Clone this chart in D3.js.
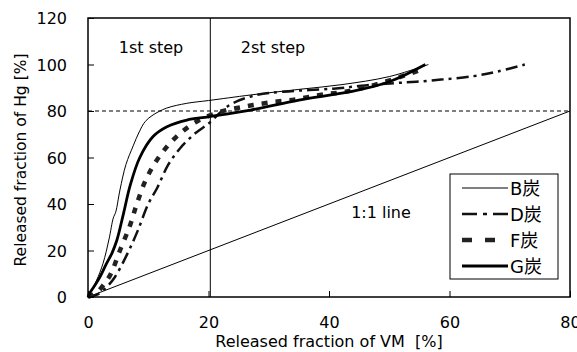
<!DOCTYPE html>
<html>
<head>
<meta charset="utf-8">
<script src="https://cdn.jsdelivr.net/npm/d3@7"></script>
<style>
  body { margin: 0; background: #fff; }
  svg text { font-family: "DejaVu Sans", "Noto Sans CJK JP", sans-serif; fill: #000; }
</style>
</head>
<body>
<div id="chart"></div>
<script>
// data: [released VM %, released Hg %]
const coalB = [[0,0],[1.4,7],[2.5,14.5],[3.5,25],[4.2,34],[4.6,36.5],[5.3,46],[6.3,57],[7.5,65],[8.5,71],[9.5,75.5],[10.8,78.3],[13,81.2],[16.4,83.3],[20,84.5],[27,86.9],[35,89.3],[42,91.3],[50,94.8],[56.5,100]];
const coalD = [[0,0],[1.5,1],[3,4],[4.5,8.7],[6.7,19.5],[8.3,28.8],[10,40],[11.5,47],[13.3,56.8],[15.3,64],[17.8,70.4],[20.2,75],[22,79.5],[24,83.3],[28,86.9],[32.4,88.3],[40.7,89.6],[46,91],[51,92],[54.5,92.6],[59,93.6],[64,95],[68,97],[72.5,100]];
const coalF = [[0,0],[1.5,2],[2.5,5],[3.7,9.5],[5.3,20],[7,31],[8.1,40],[9.7,51],[12,61],[14.7,69],[18,75.4],[22,79.7],[26,81.9],[30,83.6],[34.4,85],[38.5,86.9],[42.7,88.3],[48,91.5],[55,97.5]];
const coalG = [[0,0],[0.3,1.7],[1,4.5],[2,8.7],[3,14],[4,19],[4.8,24.5],[5.9,36],[7,48],[8.6,60],[10.8,69],[13.1,73.2],[16.4,76.1],[20,77.5],[27,80.4],[35,84.7],[43.5,88.3],[50,92.6],[56,100]];
const seriesNames = ['B炭', 'D炭', 'F炭', 'G炭'];
const xTicks = [0, 20, 40, 60, 80];
const yTicks = [0, 20, 40, 60, 80, 100, 120];
const oneToOne = [[0, 0], [80, 80]];
const stepBoundary = 20.3;
const refLevel = 80;

const width = 577, height = 352;
const margin = { top: 18, right: 7, bottom: 55, left: 88 };

const x = d3.scaleLinear().domain([0, 80]).range([margin.left, width - margin.right]);
const y = d3.scaleLinear().domain([0, 120]).range([height - margin.bottom, margin.top]);

const svg = d3.select('#chart').append('svg')
  .attr('width', width)
  .attr('height', height);

const styles = [
  { width: 1, dash: null, color: '#000' },
  { width: 2.5, dash: '12,5,3,5', color: '#111' },
  { width: 4.5, dash: '6,8', color: '#222' },
  { width: 2.8, dash: null, color: '#000' }
];

// reference lines
svg.append('line')
  .attr('x1', x(0)).attr('x2', x(80))
  .attr('y1', y(refLevel)).attr('y2', y(refLevel))
  .attr('stroke', '#000').attr('stroke-width', 1).attr('stroke-dasharray', '4,3');

svg.append('line')
  .attr('x1', x(stepBoundary)).attr('x2', x(stepBoundary))
  .attr('y1', y(0)).attr('y2', y(120))
  .attr('stroke', '#000').attr('stroke-width', 1);

const line = d3.line().x(d => x(d[0])).y(d => y(d[1])).curve(d3.curveCatmullRom);

svg.append('path')
  .attr('d', d3.line().x(d => x(d[0])).y(d => y(d[1]))(oneToOne))
  .attr('fill', 'none').attr('stroke', '#000').attr('stroke-width', 1);

const allSeries = [coalB, coalD, coalF, coalG];
svg.selectAll('.curve')
  .data(allSeries)
  .join('path')
  .classed('curve', true)
  .attr('d', line)
  .attr('fill', 'none')
  .attr('stroke', (d, i) => styles[i].color)
  .attr('stroke-width', (d, i) => styles[i].width)
  .attr('stroke-dasharray', (d, i) => styles[i].dash);

// axes
svg.append('g')
  .attr('transform', `translate(0,${y(0)})`)
  .call(d3.axisBottom(x).tickValues(xTicks).tickSizeInner(-6).tickSizeOuter(0).tickPadding(20))
  .call(g => g.select('.domain').remove())
  .call(g => g.selectAll('text').attr('font-size', 16).style('font-family', null));

svg.append('g')
  .attr('transform', `translate(${x(0)},0)`)
  .call(d3.axisLeft(y).tickValues(yTicks).tickSizeInner(-6).tickSizeOuter(0).tickPadding(21))
  .call(g => g.select('.domain').remove())
  .call(g => g.selectAll('text').attr('font-size', 16).attr('dy', '0.35em').style('font-family', null));

svg.selectAll('.tick line').attr('stroke', '#000');

// frame
svg.append('rect')
  .attr('x', x(0)).attr('y', y(120))
  .attr('width', x(80) - x(0)).attr('height', y(0) - y(120))
  .attr('fill', 'none').attr('stroke', '#000').attr('stroke-width', 1.5);

// titles
svg.append('text')
  .attr('x', 329).attr('y', 347)
  .attr('text-anchor', 'middle').attr('font-size', 16)
  .text('Released fraction of VM\u00a0\u00a0[%]');

svg.append('text')
  .attr('transform', 'translate(26,160) rotate(-90)')
  .attr('text-anchor', 'middle').attr('font-size', 15.5)
  .text('Released fraction of Hg [%]');

svg.append('text').attr('x', 151).attr('y', 53).attr('text-anchor', 'middle').attr('font-size', 16).text('1st step');
svg.append('text').attr('x', 273).attr('y', 53).attr('text-anchor', 'middle').attr('font-size', 16).text('2st step');
svg.append('text').attr('x', 381).attr('y', 218).attr('text-anchor', 'middle').attr('font-size', 16).text('1:1 line');

// legend
const legend = svg.append('g').attr('transform', 'translate(450,174)');
legend.append('rect')
  .attr('width', 108).attr('height', 105)
  .attr('fill', '#fff').attr('stroke', '#000').attr('stroke-width', 1);

const rows = legend.selectAll('.row')
  .data(seriesNames)
  .join('g')
  .classed('row', true)
  .attr('transform', (d, i) => `translate(0,${14 + i * 26})`);

rows.append('line')
  .attr('x1', 12).attr('x2', 58)
  .attr('stroke', (d, i) => styles[i].color)
  .attr('stroke-width', (d, i) => styles[i].width)
  .attr('stroke-dasharray', (d, i) => i === 1 ? '15,6,4,6' : i === 2 ? '10,13' : null);

rows.append('text')
  .attr('x', 60).attr('dy', '0.38em')
  .attr('font-size', 18)
  .text(d => d);
</script>
</body>
</html>
